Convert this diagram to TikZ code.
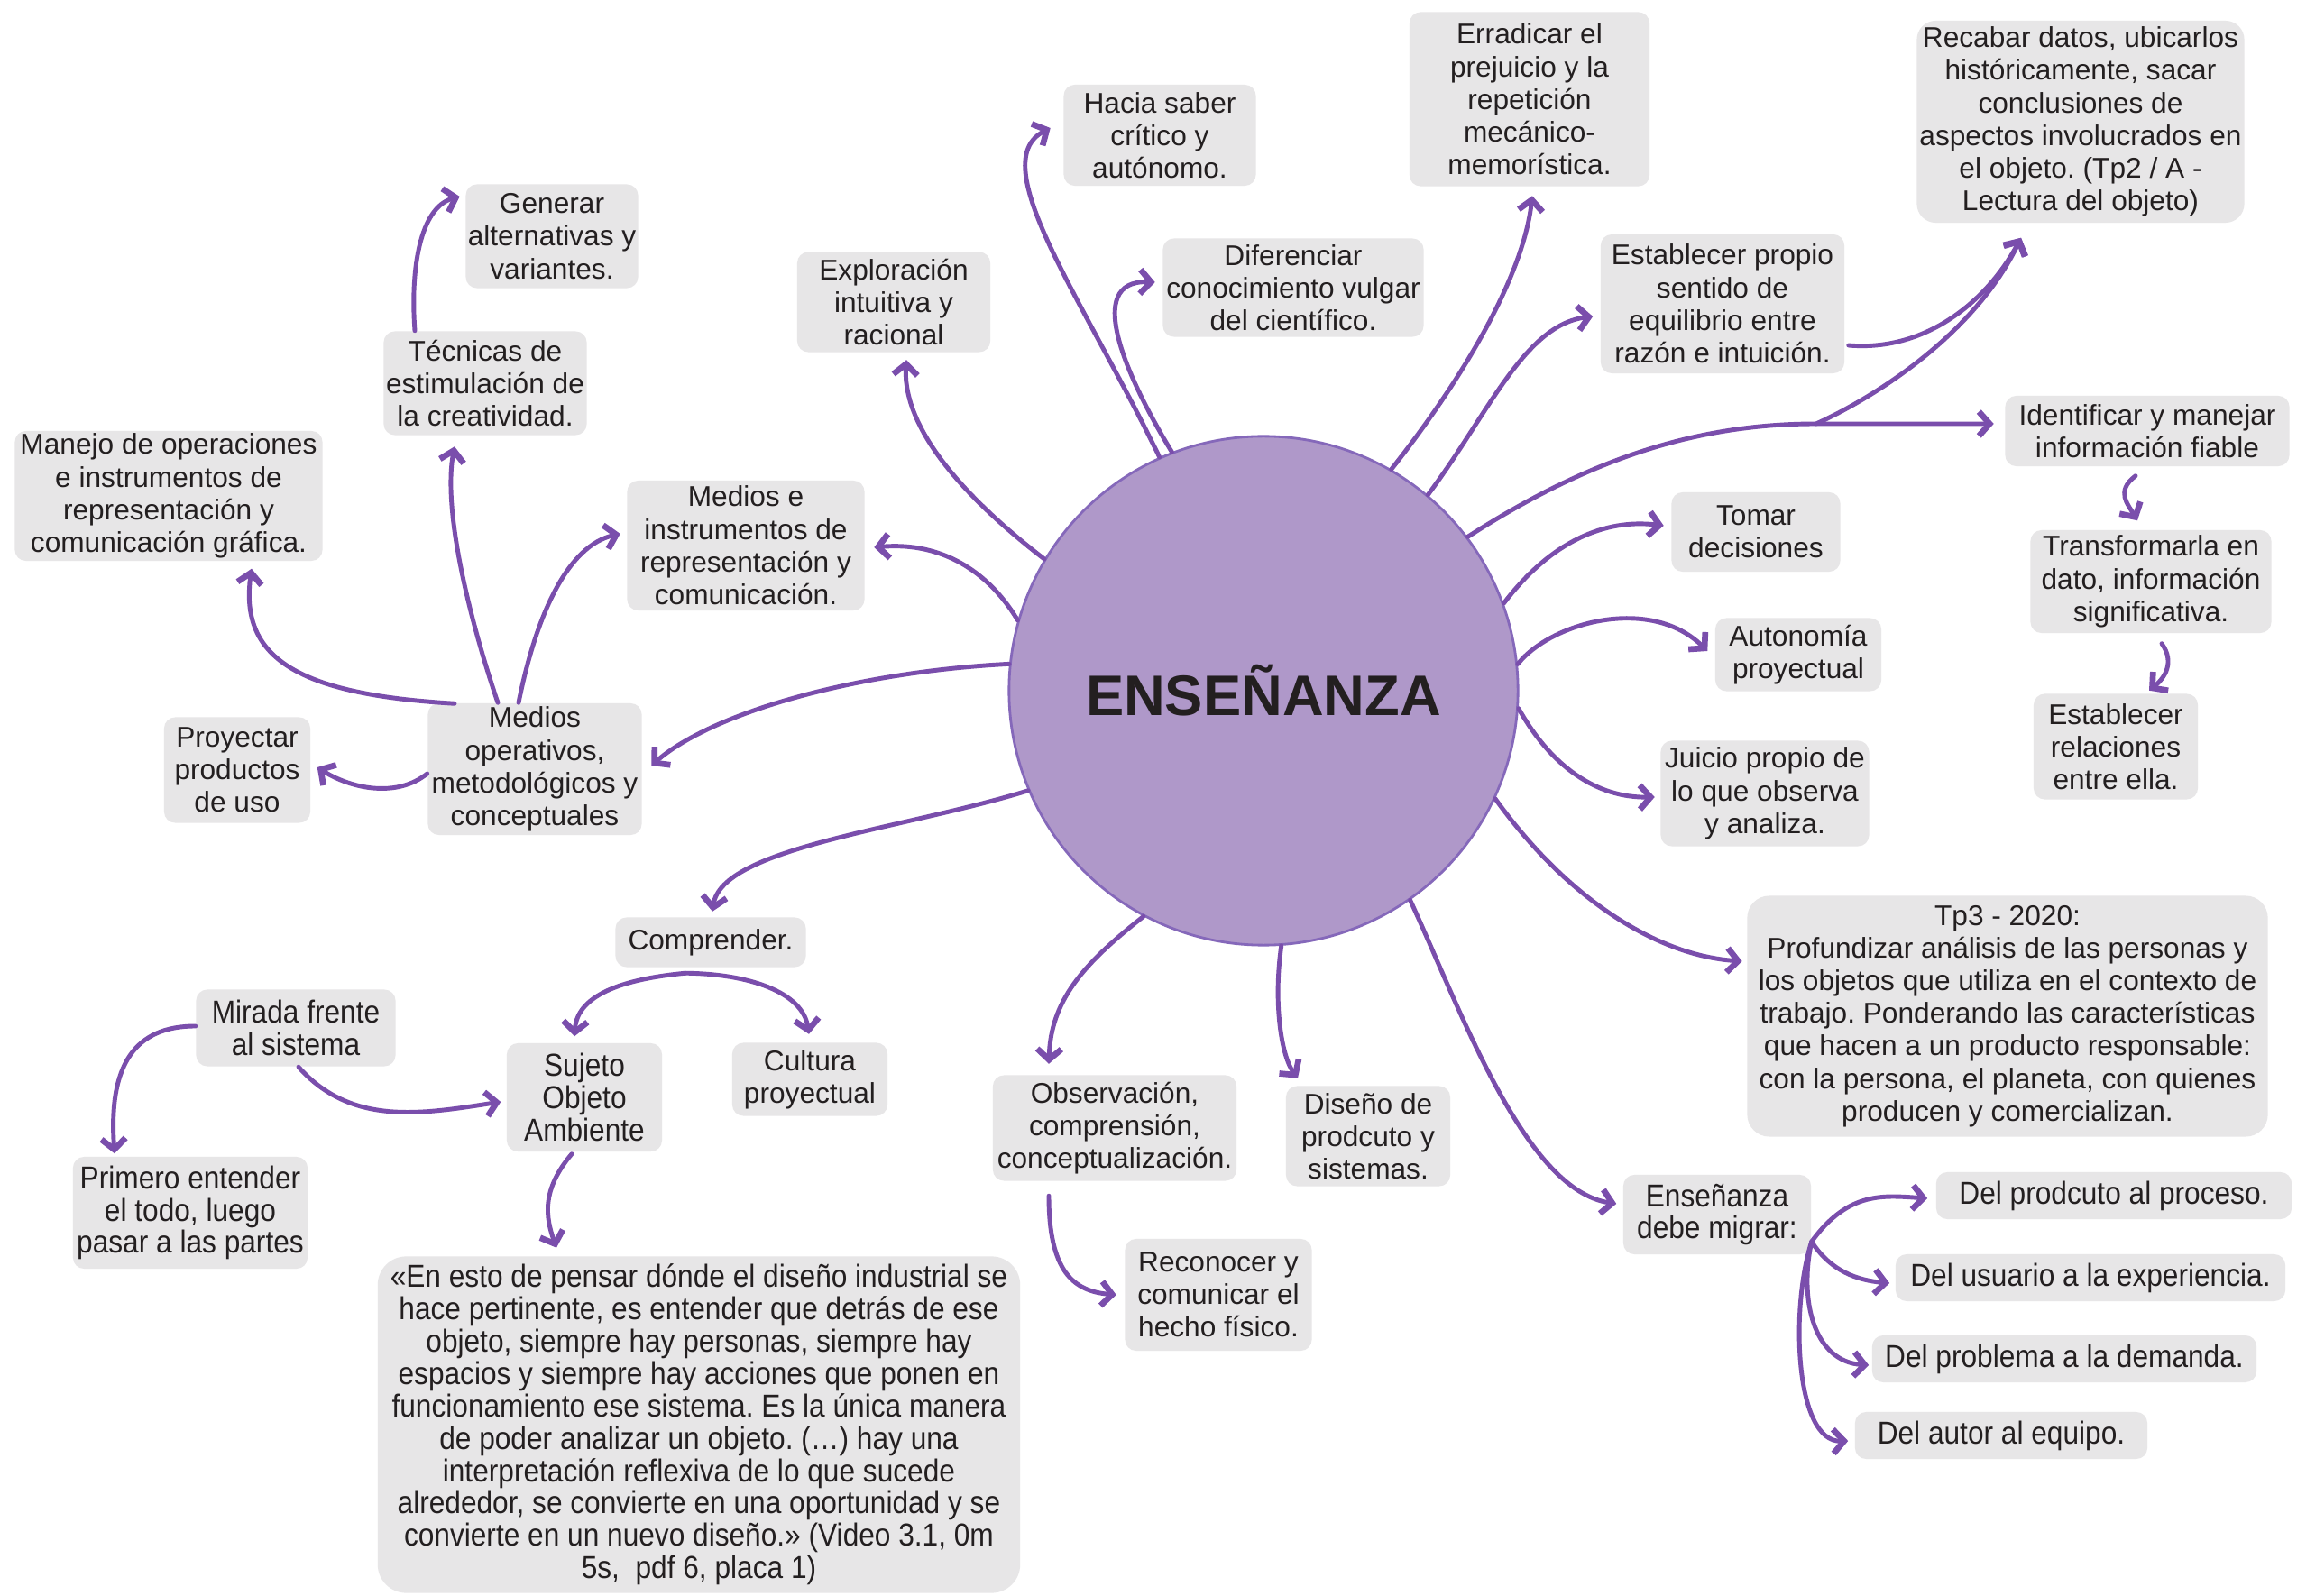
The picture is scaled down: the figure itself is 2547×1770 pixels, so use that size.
\documentclass[tikz,border=0pt]{standalone}
\usepackage{fontspec}
\setmainfont{Liberation Sans}
\newfontfamily\narrowfam[FakeStretch=0.9]{Liberation Sans}
\usetikzlibrary{arrows.meta,calc}
\frenchspacing

\definecolor{ink}{RGB}{35,31,32}
\definecolor{boxgray}{RGB}{231,230,231}
\definecolor{linkpurple}{RGB}{122,78,172}
\definecolor{hubfill}{RGB}{175,152,201}
\definecolor{hubedge}{RGB}{133,104,186}

\newcommand\regfont{\fontsize{9}{10.3}\selectfont}
\newcommand\narfont{\narrowfam\fontsize{10}{10.2}\selectfont}

\tikzset{
  box/.style={fill=boxgray, rounded corners=3.5pt, align=center, inner sep=0pt,
              text=ink, font=\regfont},
  nbox/.style={box, font=\narfont},
  link/.style={draw=linkpurple, line width=1.4pt, line cap=round,
               -{Straight Barb[length=3.4pt,width=7.6pt,line width=1.9pt]}},
}

\begin{document}
\begin{tikzpicture}[x=0.01cm, y=-0.01cm]
\useasboundingbox (0,0) rectangle (2547,1770);
\fill[white] (0,0) rectangle (2547,1770);

% hub
\node[circle, minimum size=5.64cm, inner sep=0pt, fill=hubfill, draw=hubedge,
      line width=0.8pt, text=ink, font=\fontsize{18}{20}\selectfont\bfseries]
      (c) at (1401,766) {ENSEÑANZA};

% upper ring
\node[box, minimum width=2.13cm, minimum height=1.12cm] (hacia) at (1286,150)
  {Hacia saber\\crítico y\\autónomo.};
\node[box, minimum width=2.66cm, minimum height=1.93cm] (erradicar) at (1696,110)
  {Erradicar el\\prejuicio y la\\repetición\\mecánico-\\memorística.};
\node[box, minimum width=3.63cm, minimum height=2.24cm, rounded corners=6pt] (recabar) at (2307,135)
  {Recabar datos, ubicarlos\\históricamente, sacar\\conclusiones de\\aspectos involucrados en\\el objeto. (Tp2 / A -\\Lectura del objeto)};
\node[box, minimum width=2.14cm, minimum height=1.11cm] (explor) at (991,335)
  {Exploración\\intuitiva y\\racional};
\node[box, minimum width=2.89cm, minimum height=1.09cm] (difer) at (1434,319)
  {Diferenciar\\conocimiento vulgar\\del científico.};
\node[box, minimum width=2.70cm, minimum height=1.54cm] (estprop) at (1910,337)
  {Establecer propio\\sentido de\\equilibrio entre\\razón e intuición.};

% left cluster
\node[box, minimum width=1.91cm, minimum height=1.15cm] (generar) at (612,262)
  {Generar\\alternativas y\\variantes.};
\node[box, minimum width=2.25cm, minimum height=1.15cm] (tecnicas) at (538,425)
  {Técnicas de\\estimulación de\\la creatividad.};
\node[box, minimum width=3.41cm, minimum height=1.44cm] (manejo) at (187,550)
  {Manejo de operaciones\\e instrumentos de\\representación y\\comunicación gráfica.};
\node[box, minimum width=2.63cm, minimum height=1.44cm] (mediose) at (827,605)
  {Medios e\\instrumentos de\\representación y\\comunicación.};
\node[box, minimum width=1.62cm, minimum height=1.17cm] (proyectar) at (263,854)
  {Proyectar\\productos\\de uso};
\node[box, minimum width=2.37cm, minimum height=1.46cm] (medop) at (593,853)
  {Medios\\operativos,\\metodológicos y\\conceptuales};

% right cluster
\node[box, minimum width=3.15cm, minimum height=0.78cm] (ident) at (2381,478)
  {Identificar y manejar\\información fiable};
\node[box, minimum width=1.87cm, minimum height=0.88cm] (tomar) at (1947,590)
  {Tomar\\decisiones};
\node[box, minimum width=2.67cm, minimum height=1.14cm] (transf) at (2385,645)
  {Transformarla en\\dato, información\\significativa.};
\node[box, minimum width=1.84cm, minimum height=0.81cm] (autonom) at (1994,726)
  {Autonomía\\proyectual};
\node[box, minimum width=1.82cm, minimum height=1.17cm] (estrel) at (2346,828)
  {Establecer\\relaciones\\entre ella.};
\node[box, minimum width=2.31cm, minimum height=1.17cm] (juicio) at (1957,880)
  {Juicio propio de\\lo que observa\\y analiza.};
\node[box, minimum width=5.77cm, minimum height=2.67cm, rounded corners=7pt] (tp3) at (2226,1127)
  {Tp3 - 2020:\\Profundizar análisis de las personas y\\los objetos que utiliza en el contexto de\\trabajo. Ponderando las características\\que hacen a un producto responsable:\\con la persona, el planeta, con quienes\\producen y comercializan.};

% lower left cluster
\node[box, minimum width=2.11cm, minimum height=0.55cm] (comprender) at (788,1045)
  {Comprender.};
\node[nbox, minimum width=2.21cm, minimum height=0.85cm] (mirada) at (328,1140)
  {Mirada frente\\al sistema};
\node[nbox, minimum width=1.72cm, minimum height=1.20cm] (sujeto) at (648,1217)
  {Sujeto\\Objeto\\Ambiente};
\node[box, minimum width=1.72cm, minimum height=0.81cm] (cultura) at (898,1197)
  {Cultura\\proyectual};
\node[nbox, minimum width=2.60cm, minimum height=1.24cm] (primero) at (211,1345)
  {Primero entender\\el todo, luego\\pasar a las partes};
\node[nbox, minimum width=7.12cm, minimum height=3.73cm, rounded corners=9pt] (quote) at (775,1580)
  {«En esto de pensar dónde el diseño industrial se\\hace pertinente, es entender que detrás de ese\\objeto, siempre hay personas, siempre hay\\espacios y siempre hay acciones que ponen en\\funcionamiento ese sistema. Es la única manera\\de poder analizar un objeto. (…) hay una\\interpretación reflexiva de lo que sucede\\alrededor, se convierte en una oportunidad y se\\convierte en un nuevo diseño.» (Video 3.1, 0m\\5s,\ \ pdf 6, placa 1)};

% lower middle
\node[box, minimum width=2.70cm, minimum height=1.17cm] (observ) at (1236,1251)
  {Observación,\\comprensión,\\conceptualización.};
\node[box, minimum width=1.82cm, minimum height=1.11cm] (diseno) at (1517,1260)
  {Diseño de\\prodcuto y\\sistemas.};
\node[box, minimum width=2.07cm, minimum height=1.24cm] (reconocer) at (1351,1436)
  {Reconocer y\\comunicar el\\hecho físico.};

% lower right
\node[nbox, minimum width=2.08cm, minimum height=0.88cm] (ensenanza) at (1904,1347)
  {Enseñanza\\debe migrar:};
\node[nbox, minimum width=3.94cm, minimum height=0.52cm] (del1) at (2344,1326)
  {Del prodcuto al proceso.};
\node[nbox, minimum width=4.32cm, minimum height=0.52cm] (del2) at (2318,1417)
  {Del usuario a la experiencia.};
\node[nbox, minimum width=4.26cm, minimum height=0.52cm] (del3) at (2289,1507)
  {Del problema a la demanda.};
\node[nbox, minimum width=3.24cm, minimum height=0.52cm] (del4) at (2219,1592)
  {Del autor al equipo.};

% connectors from the hub
\draw[link] (c.114) .. controls (1200,330) and (1090,180) .. ($(hacia.west)+(-14,-8)$);
\draw[link] (c.111) .. controls (1250,420) and (1200,310) .. ($(difer.west)+(-8,-6)$);
\draw[link] (c.149) .. controls (1080,560) and (1000,480) .. ($(explor.south)+(14,8)$);
\draw[link] (c.164) .. controls (1100,640) and (1050,600) .. ($(mediose.east)+(10,2)$);
\draw[link] (c.174) .. controls (950,745) and (790,790) .. ($(medop.east)+(10,-4)$);
\draw[link] (c.203) .. controls (1000,920) and (800,940) .. ($(comprender.north)+(2,-6)$);
\draw[link] (c.242) .. controls (1200,1070) and (1165,1110) .. ($(observ.north)+(-73,-12)$);
\draw[link] (c.274) .. controls (1412,1110) and (1420,1170) .. ($(diseno.north)+(-78,-8)$);
\draw[link] (c.305) .. controls (1620,1120) and (1690,1320) .. ($(ensenanza.west)+(-7,-12)$);
\draw[link] (c.335) .. controls (1740,1000) and (1840,1060) .. ($(tp3.west)+(-5,-61)$);
\draw[link] (c.356) .. controls (1720,850) and (1770,885) .. ($(juicio.west)+(-6,4)$);
\draw[link] (c.6) .. controls (1720,690) and (1830,660) .. ($(autonom.west)+(-8,-4)$);
\draw[link] (c.20) .. controls (1720,600) and (1780,575) .. ($(tomar.west)+(-8,-7)$);
\draw[link] (c.60) .. controls (1630,410) and (1690,300) .. ($(erradicar.south)+(3,10)$);
\draw[link] (c.50) .. controls (1650,460) and (1690,360) .. ($(estprop.west)+(-8,14)$);

% hub to "Identificar", with a branch up to "Recabar"
\coordinate (br) at ($(ident.west)+(-209,-8)$);
\draw[link] (c.37) .. controls (1760,510) and (1880,470) .. (br) -- ($(ident.west)+(-12,-8)$);
\draw[link] (br) .. controls (2080,440) and (2190,370) .. ($(recabar.south)+(-66,16)$);
\draw[link] ($(estprop.east)+(4,46)$) .. controls (2130,390) and (2200,340) .. ($(recabar.south)+(-66,16)$);

% secondary connectors
\draw[link] ($(ident.south)+(-13,10)$) .. controls (2345,545) and (2360,560) .. ($(transf.north)+(-15,-10)$);
\draw[link] ($(transf.south)+(12,11)$) .. controls (2412,735) and (2400,752) .. ($(estrel.north)+(37,-3)$);
\draw[link] ($(medop.north)+(-89,1)$) .. controls (330,770) and (265,730) .. ($(manejo.south)+(92,8)$);
\draw[link] ($(medop.north)+(-41,0)$) .. controls (525,700) and (490,570) .. ($(tecnicas.south)+(-34,12)$);
\draw[link] ($(medop.north)+(-18,0)$) .. controls (595,680) and (630,605) .. ($(mediose.west)+(-7,-13)$);
\draw[link] ($(medop.west)+(0,5)$) .. controls (440,885) and (390,875) .. ($(proyectar.east)+(7,-3)$);
\draw[link] ($(tecnicas.north)+(-78,0)$) .. controls (455,300) and (465,230) .. ($(generar.west)+(-6,-44)$);

\coordinate (cmp) at ($(comprender.south)+(-28,6)$);
\draw[link] (cmp) .. controls (700,1085) and (640,1100) .. ($(sujeto.north)+(-11,-7)$);
\draw[link] (cmp) .. controls (830,1080) and (890,1100) .. ($(cultura.north)+(-1,-9)$);
\draw[link] ($(mirada.west)+(0,-2)$) .. controls (150,1138) and (120,1180) .. ($(primero.north)+(-84,-3)$);
\draw[link] ($(mirada.south)+(3,0)$) .. controls (390,1250) and (470,1235) .. ($(sujeto.west)+(-6,5)$);
\draw[link] ($(sujeto.south)+(-14,2)$) .. controls (600,1320) and (605,1350) .. ($(quote.north)+(-158,-9)$);
\draw[link] ($(observ.south)+(-73,16)$) .. controls (1163,1410) and (1190,1432) .. ($(reconocer.west)+(-9,0)$);

\coordinate (mig) at ($(ensenanza.east)+(0,30)$);
\draw[link] (mig) .. controls (2050,1320) and (2090,1326) .. ($(del1.west)+(-9,3)$);
\draw[link] (mig) .. controls (2030,1410) and (2060,1420) .. ($(del2.west)+(-6,6)$);
\draw[link] (mig) .. controls (1995,1440) and (2010,1510) .. ($(del3.west)+(-3,7)$);
\draw[link] (mig) .. controls (1985,1450) and (1990,1600) .. ($(del4.west)+(-7,6)$);
\end{tikzpicture}
\end{document}
